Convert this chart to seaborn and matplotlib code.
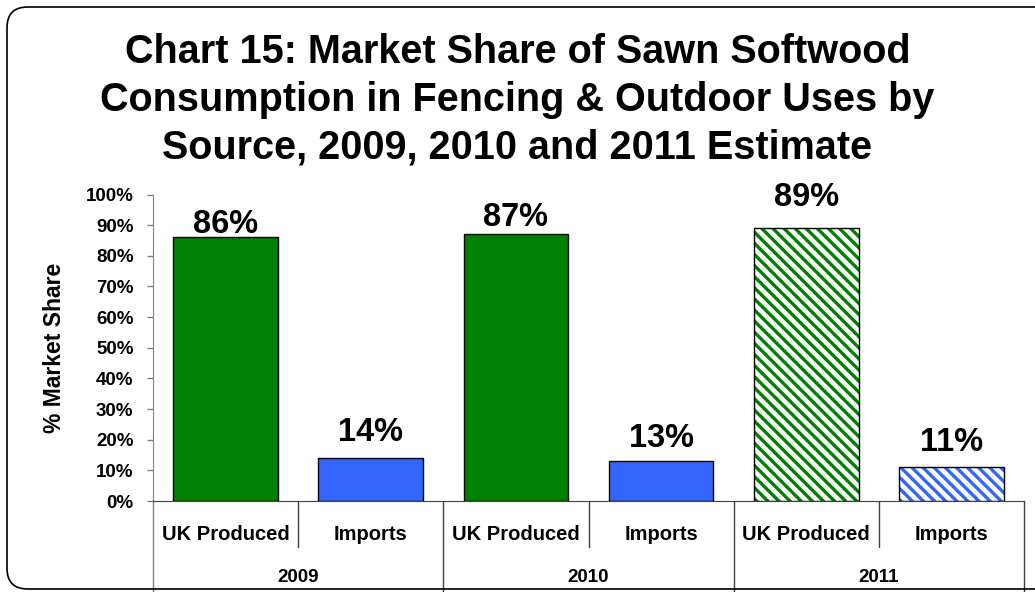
import numpy as np
import pandas as pd
import matplotlib.pyplot as plt
import seaborn as sns
from matplotlib.patches import FancyBboxPatch, Rectangle
from matplotlib.ticker import PercentFormatter

# values
years = ["2009", "2010", "2011"]
sources = ["UK Produced", "Imports"]
shares = [0.86, 0.14, 0.87, 0.13, 0.89, 0.11]
estimate_year = "2011"

rows = []
i = 0
for y in years:
    for s in sources:
        rows.append({"year": y, "source": s, "key": y + " " + s, "share": shares[i]})
        i += 1
df = pd.DataFrame(rows)

sns.set_style("white")
plt.rcParams['font.family'] = ['Liberation Sans', 'DejaVu Sans']
plt.rcParams['text.color'] = 'black'
plt.rcParams['ytick.labelcolor'] = 'black'
plt.rcParams['hatch.linewidth'] = 2.4

green = "#008000"
blue = "#3366FF"
palette = [green if s == "UK Produced" else blue for s in df["source"]]

fig = plt.figure(figsize=(10.35, 5.92), dpi=100)
ax = fig.add_axes([153 / 1035, 1 - 501 / 592, (1024 - 153) / 1035, 306.5 / 592])

sns.barplot(data=df, x="key", y="share", hue="key", palette=palette, order=df["key"],
            legend=False, width=0.72, edgecolor="black", linewidth=1, saturation=1, ax=ax)

# 2011 is an estimate -> striped bars
for p, (_, r) in zip(ax.patches, df.iterrows()):
    if r["year"] == estimate_year:
        col = green if r["source"] == "UK Produced" else blue
        p.set_facecolor("white")
        p.set_edgecolor(col)
        p.set_hatch("\\\\\\")
        p.set_linewidth(0)
        ax.add_patch(Rectangle(p.get_xy(), p.get_width(), p.get_height(),
                               fill=False, edgecolor="black", linewidth=1, zorder=p.get_zorder() + 1))

# data labels (staggered like the original)
label_offsets = [4, 17, 8, 14, 22, 16]
for k, (_, r) in enumerate(df.iterrows()):
    ax.annotate(f"{r['share']:.0%}", (k, r["share"]), xytext=(0, label_offsets[k]),
                textcoords="offset pixels", ha="center", va="baseline",
                fontsize=23.5, fontweight="bold", annotation_clip=False)

ax.set_ylim(0, 1)
ax.set_xlim(-0.5, len(df) - 0.5)
ax.set_yticks(np.arange(0, 1.01, 0.1))
ax.yaxis.set_major_formatter(PercentFormatter(1.0, decimals=0))
ax.tick_params(axis="y", left=True, length=4, width=1, color="#808080", pad=10,
               labelsize=13.5, labelcolor="black")
for t in ax.get_yticklabels():
    t.set_fontweight("bold")
ax.set_xticks([])
ax.set_xlabel("")
ax.set_ylabel("")
for side in ["top", "right"]:
    ax.spines[side].set_visible(False)
ax.spines["left"].set_color("#808080")
ax.spines["bottom"].set_color("#404040")

# two-level category axis below the plot
trans = ax.get_xaxis_transform()
for k in range(len(df) + 1):
    bottom = -0.31 if k % len(sources) == 0 else -0.15
    col = "#808080" if k == 0 else "#404040"
    ax.plot([k - 0.5, k - 0.5], [0, bottom], transform=trans, color=col, lw=1, clip_on=False)
for k, (_, r) in enumerate(df.iterrows()):
    ax.text(k, -0.108, r["source"], transform=trans, ha="center", va="center",
            fontsize=14.5, fontweight="bold", color="black")
for j, y in enumerate(years):
    mid = j * len(sources) + (len(sources) - 1) / 2
    ax.text(mid, -0.248, y, transform=trans, ha="center", va="center",
            fontsize=13.5, fontweight="bold", color="black")

fig.text(55 / 1035, 1 - 348 / 592, "% Market Share", rotation=90, ha="center", va="center",
         fontsize=16.5, fontweight="bold", color="black")

fig.text(0.5, 1 - 100 / 592,
         "Chart 15: Market Share of Sawn Softwood\nConsumption in Fencing & Outdoor Uses by\n"
         "Source, 2009, 2010 and 2011 Estimate",
         ha="center", va="center", fontsize=28.5, fontweight="bold", linespacing=1.33,
         color="black")

# rounded frame around the chart
fig.patches.append(FancyBboxPatch((7 / 1035, 3 / 592), 1.05, 1 - 10 / 592,
                                  boxstyle="round,pad=0,rounding_size=0.02",
                                  transform=fig.transFigure, fill=False,
                                  edgecolor="black", linewidth=1.2, mutation_aspect=1035 / 592))

fig.savefig("out.png", dpi=100)
